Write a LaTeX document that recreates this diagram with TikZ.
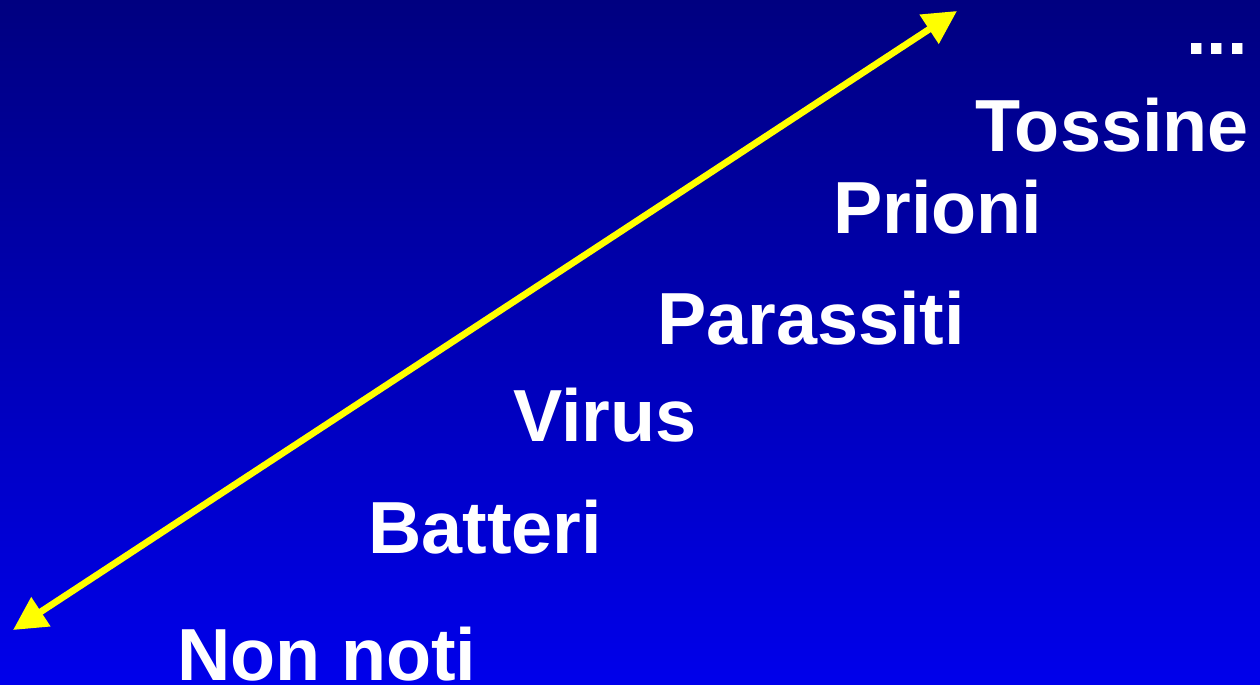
\documentclass[tikz,border=0pt]{standalone}
\usepackage{fontspec}
\setmainfont{Liberation Sans}
\usepackage{xcolor}
\usetikzlibrary{arrows.meta}
\definecolor{skytop}{RGB}{0,0,128}
\definecolor{skybottom}{RGB}{0,0,235}
\definecolor{arrowyellow}{RGB}{255,255,0}

\begin{document}
\begin{tikzpicture}[
x=0.02cm, y=0.02cm,
    agent/.style={anchor=base west, inner sep=0pt, text=white, font=\fontsize{42}{48}\selectfont\bfseries},
    scale line/.style={draw=arrowyellow, line width=3.8pt, {Triangle[length=19pt, width=19pt]}-{Triangle[length=19pt, width=19pt]}}
]

    % Background
    \shade[top color=skytop, bottom color=skybottom] (0,0) rectangle (1260,684);

    % Ends of the scale
    \coordinate (low) at (13,54);
    \coordinate (high) at (957,673);

    % Agents
    \node[agent] (nonnoti) at (177,4) {Non noti};
    \node[agent] (batteri) at (368,131) {Batteri};
    \node[agent] (virus) at (513,243) {Virus};
    \node[agent] (parassiti) at (657,340) {Parassiti};
    \node[agent] (prioni) at (833,451) {Prioni};
    \node[agent] (tossine) at (975,532) {Tossine};
    \node[agent] (altri) at (1186,629) {...};

    % Scale
    \draw[scale line] (low) -- (high);

\end{tikzpicture}
\end{document}
